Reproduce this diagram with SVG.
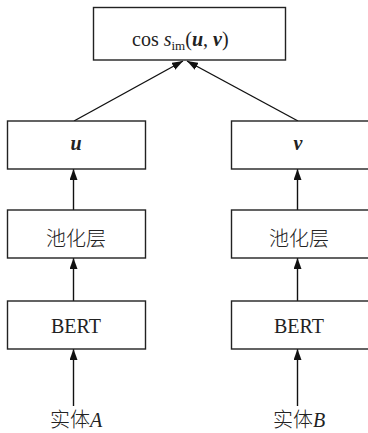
<svg xmlns="http://www.w3.org/2000/svg" width="368" height="433" viewBox="0 0 368 433">
  <style>
    .box { fill: #ffffff; stroke: #222222; stroke-width: 1.4; }
    .edge { stroke: #111111; stroke-width: 1.4; fill: none; marker-end: url(#arrow); }
    .lbl { font-family: "Liberation Serif", "Times New Roman", serif; font-size: 20px; fill: #222222; text-anchor: middle; }
    .cjk { font-family: "Noto Sans CJK SC", sans-serif; font-weight: 300; }
    .bi { font-style: italic; font-weight: bold; }
    .it { font-style: italic; }
  </style>
  <defs>
    <marker id="arrow" markerUnits="userSpaceOnUse" markerWidth="11" markerHeight="8" refX="11" refY="4" orient="auto">
      <path d="M0,0 L11,4 L0,8 z" fill="#111111"/>
    </marker>
  </defs>

  <g id="connectors">
    <line class="edge" x1="74" y1="121" x2="183" y2="61"/>
    <line class="edge" x1="298" y1="121" x2="187" y2="61"/>
    <line class="edge" x1="73.5" y1="210" x2="73.5" y2="169"/>
    <line class="edge" x1="297.5" y1="210" x2="297.5" y2="169"/>
    <line class="edge" x1="73.5" y1="301" x2="73.5" y2="258"/>
    <line class="edge" x1="297.5" y1="301" x2="297.5" y2="258"/>
    <line class="edge" x1="73.5" y1="406" x2="73.5" y2="349"/>
    <line class="edge" x1="297.5" y1="406" x2="297.5" y2="349"/>
  </g>

  <g id="similarity">
    <rect class="box" x="93.5" y="7.5" width="192" height="52.5"/>
    <text class="lbl" x="132" y="46" style="text-anchor:start">cos <tspan class="it">s</tspan><tspan font-size="13" dy="4">im</tspan><tspan dy="-4">(</tspan><tspan class="bi">u</tspan>, <tspan class="bi">v</tspan>)</text>
  </g>

  <g id="vec-u">
    <rect class="box" x="7.5" y="121" width="138" height="48"/>
    <text class="lbl bi" x="76" y="150">u</text>
  </g>
  <g id="vec-v">
    <rect class="box" x="231.5" y="121" width="138" height="48"/>
    <text class="lbl bi" x="298" y="150">v</text>
  </g>

  <g id="pool-a">
    <rect class="box" x="7.5" y="210" width="138" height="48"/>
    <text class="lbl cjk" x="76" y="246" font-size="21">池化层</text>
  </g>
  <g id="pool-b">
    <rect class="box" x="231.5" y="210" width="138" height="48"/>
    <text class="lbl cjk" x="299" y="246" font-size="21">池化层</text>
  </g>

  <g id="bert-a">
    <rect class="box" x="7.5" y="301" width="138" height="48"/>
    <text class="lbl" x="76" y="333" font-size="21">BERT</text>
  </g>
  <g id="bert-b">
    <rect class="box" x="231.5" y="301" width="138" height="48"/>
    <text class="lbl" x="299" y="333" font-size="21">BERT</text>
  </g>

  <g id="entity-a">
    <text class="lbl" x="76" y="427"><tspan class="cjk">实体</tspan><tspan class="it">A</tspan></text>
  </g>
  <g id="entity-b">
    <text class="lbl" x="299" y="427"><tspan class="cjk">实体</tspan><tspan class="it">B</tspan></text>
  </g>
</svg>
